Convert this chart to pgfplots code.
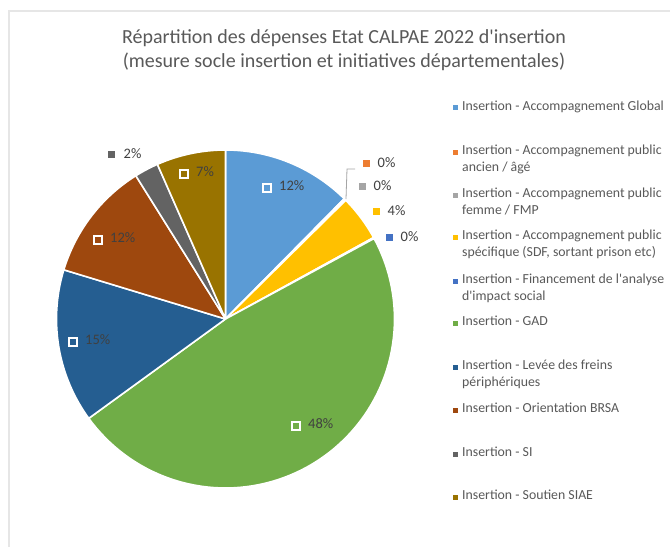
\documentclass[border=0pt]{standalone}
\usepackage{pgfplots}
\pgfplotsset{compat=1.18}
\usepackage{pgfplotstable}
\usepackage{fontspec}
\setmainfont{Carlito}

\definecolor{c1}{HTML}{5B9BD5}
\definecolor{c2}{HTML}{ED7D31}
\definecolor{c3}{HTML}{A5A5A5}
\definecolor{c4}{HTML}{FFC000}
\definecolor{c5}{HTML}{4472C4}
\definecolor{c6}{HTML}{70AD47}
\definecolor{c7}{HTML}{255E91}
\definecolor{c8}{HTML}{9E480E}
\definecolor{c9}{HTML}{636363}
\definecolor{c10}{HTML}{997300}
\definecolor{lbl}{HTML}{404040}
\definecolor{ttl}{HTML}{595959}
\definecolor{frame}{HTML}{E6E6E6}

% share of each category (percent), clockwise from 12 o'clock
\pgfplotstableread{
value
12.4
0.1
0.1
4.4
0.1
47.9
14.7
11.4
2.3
6.6
}\piedata

\newcommand\osq[1]{\textcolor{#1}{\rule[1bp]{6.5bp}{6.5bp}}}
\newcommand\wsq[1]{{\setlength\fboxsep{0pt}\setlength\fboxrule{2bp}\fcolorbox{white}{#1}{\rule{0pt}{6bp}\rule{6bp}{0pt}}}}
\newcommand\legitem[3]{%
  \fill[#2] (axis cs:453,#1-2.5) rectangle (axis cs:458,#1+2.5);
  \node at (axis cs:462,#1-7.5) {#3};}

\begin{document}
\begin{tikzpicture}
\useasboundingbox (0,0) rectangle (670bp,547bp);
\fill[white] (0,0) rectangle (670bp,547bp);
\begin{axis}[
  at={(0,0)}, anchor=south west,
  width=670bp, height=547bp, scale only axis,
  xmin=0, xmax=670, ymin=0, ymax=547, y dir=reverse,
  hide axis, clip=false,
]
\draw[frame, line width=1.5bp] (axis cs:9,547) -- (axis cs:9,11) -- (axis cs:670,11);

\def\cumv{0}
\pgfplotsforeachungrouped \kk in {0,...,9}{%
  \pgfplotstablegetelem{\kk}{value}\of\piedata
  \pgfmathsetmacro\sa{90-3.6*\cumv}%
  \pgfmathsetmacro\cumv{\cumv+\pgfplotsretval}%
  \pgfmathsetmacro\sb{90-3.6*\cumv}%
  \pgfmathtruncatemacro\nn{\kk+1}%
  \edef\doplot{\noexpand\addplot[fill=c\nn, draw=white, line width=1.6bp, line join=round, domain=\sb:\sa, samples=80]
     ({225.5+169*cos(x)},{319-169*sin(x)}) -- (axis cs:225.5,319) -- cycle;}%
  \doplot
}

% title
\node[font=\fontsize{20bp}{24bp}\selectfont, text=ttl, align=center] at (axis cs:344,50)
  {Répartition des dépenses Etat CALPAE 2022 d\textquotesingle insertion\\(mesure socle insertion et initiatives départementales)};

% data labels
\begin{scope}[every node/.style={font=\fontsize{14.5bp}{16bp}\selectfont, text=lbl, anchor=west, inner sep=0pt}]
\node at (axis cs:262,187) {\wsq{c1}\hspace{7bp}12\%};
\node at (axis cs:291,425) {\wsq{c6}\hspace{7bp}48\%};
\node at (axis cs:68,341) {\wsq{c7}\hspace{7bp}15\%};
\node at (axis cs:93,239) {\wsq{c8}\hspace{7bp}12\%};
\node at (axis cs:179,173) {\wsq{c10}\hspace{7bp}7\%};
\node at (axis cs:108,154) {\osq{c9}\hspace{9bp}2\%};
\node at (axis cs:363,163) {\osq{c2}\hspace{8bp}0\%};
\node at (axis cs:359,186) {\osq{c3}\hspace{8bp}0\%};
\node at (axis cs:373,211) {\osq{c4}\hspace{8bp}4\%};
\node at (axis cs:386,237) {\osq{c5}\hspace{8bp}0\%};
\end{scope}
\draw[c3, line width=0.8bp] (axis cs:346,199) -- (axis cs:347,169) -- (axis cs:355,169);

% legend
\begin{scope}[every node/.style={font=\fontsize{13.8bp}{17bp}\selectfont, text=ttl, anchor=north west, inner sep=0pt, align=left}]
\legitem{108}{c1}{Insertion - Accompagnement Global}
\legitem{152}{c2}{Insertion - Accompagnement public\\ancien / âgé}
\legitem{195}{c3}{Insertion - Accompagnement public\\femme / FMP}
\legitem{237}{c4}{Insertion - Accompagnement public\\spécifique (SDF, sortant prison etc)}
\legitem{281}{c5}{Insertion - Financement de l\textquotesingle analyse\\d\textquotesingle impact social}
\legitem{323}{c6}{Insertion - GAD}
\legitem{367}{c7}{Insertion - Levée des freins\\périphériques}
\legitem{410}{c8}{Insertion - Orientation BRSA}
\legitem{454}{c9}{Insertion - SI}
\legitem{497}{c10}{Insertion - Soutien SIAE}
\end{scope}
\end{axis}
\end{tikzpicture}
\end{document}
